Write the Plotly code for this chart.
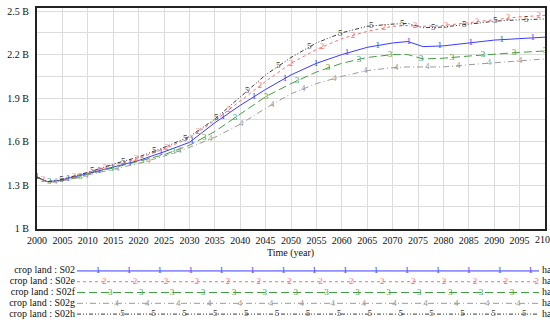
import numpy as np
import plotly.graph_objects as go

# ---------------- data ----------------
years = [2000, 2002, 2004, 2006, 2008, 2010, 2015, 2020, 2025, 2030, 2035, 2040,
         2045, 2050, 2055, 2060, 2065, 2070, 2073, 2076, 2080, 2085, 2090, 2095, 2100]

s02 = [1.357, 1.325, 1.33, 1.345, 1.36, 1.38, 1.425, 1.47, 1.53, 1.595, 1.73, 1.85,
       1.96, 2.06, 2.14, 2.20, 2.25, 2.28, 2.29, 2.255, 2.26, 2.28, 2.30, 2.31, 2.32]
s02e = [1.355, 1.322, 1.33, 1.35, 1.365, 1.385, 1.435, 1.485, 1.55, 1.625, 1.745, 1.88,
        2.015, 2.14, 2.235, 2.31, 2.36, 2.395, 2.40, 2.395, 2.40, 2.42, 2.44, 2.46, 2.47]
s02f = [1.355, 1.322, 1.327, 1.34, 1.355, 1.375, 1.42, 1.46, 1.51, 1.575, 1.67, 1.79,
        1.91, 2.00, 2.08, 2.14, 2.18, 2.20, 2.20, 2.17, 2.175, 2.19, 2.205, 2.215, 2.225]
s02g = [1.355, 1.322, 1.325, 1.335, 1.35, 1.37, 1.41, 1.45, 1.50, 1.56, 1.63, 1.72,
        1.83, 1.93, 2.00, 2.05, 2.09, 2.11, 2.115, 2.115, 2.115, 2.13, 2.145, 2.16, 2.17]
s02h = [1.355, 1.325, 1.333, 1.35, 1.367, 1.388, 1.445, 1.495, 1.56, 1.635, 1.755, 1.91,
        2.06, 2.18, 2.28, 2.35, 2.395, 2.41, 2.415, 2.385, 2.39, 2.41, 2.43, 2.44, 2.445]

series_names = ["crop land : S02", "crop land : S02e", "crop land : S02f",
                "crop land : S02g", "crop land : S02h"]
series_values = [s02, s02e, s02f, s02g, s02h]
marker_labels = ["1", "2", "3", "4", "5"]
unit_label = "ha"

y_tick_vals = [1.0, 1.15, 1.3, 1.45, 1.6, 1.75, 1.9, 2.05, 2.2, 2.35, 2.5]
y_tick_text = ["1 B", "", "1.3 B", "", "1.6 B", "", "1.9 B", "", "2.2 B", "", "2.5 B"]
x_tick_vals = list(range(2000, 2096, 5))
x_last_tick = 2100

# ---------------- styles ----------------
colors = ["#3b3bff", "#ff6b6b", "#3f9f3f", "#9a9a9a", "#3a3a3a"]
dashes = ["solid", "dot", "8px,4px", "6px,3px,1px,3px", "4px,2px,1px,2px,1px,2px"]
FONT = '"Liberation Serif", "Times New Roman", serif'

W, H = 550, 326
M_L, M_R, M_T, M_B = 37, 5, 8, 0
plot_h = H - M_T - M_B
main_bottom_px = 233
main_dom = [(H - main_bottom_px) / plot_h, 1.0]
leg_top_px = 265
leg_dom = [0.0, (H - leg_top_px) / plot_h]

fig = go.Figure()

yrs = np.array(years, dtype=float)
for i, (name, vals) in enumerate(zip(series_names, series_values)):
    v = np.array(vals) * 1e9
    fig.add_trace(go.Scatter(
        x=years, y=v, mode="lines", name=name,
        line=dict(color=colors[i], width=1, dash=dashes[i]),
        showlegend=False, hoverinfo="skip"))
    # numbered markers along the line
    mx = np.arange(2000 + 1.2 * i, 2100.01, 6.1)
    my = np.interp(mx, yrs, v)
    fig.add_trace(go.Scatter(
        x=mx, y=my, mode="text", text=[marker_labels[i]] * len(mx),
        textfont=dict(family=FONT, size=9, color=colors[i]),
        textposition="middle center", showlegend=False, hoverinfo="skip",
        cliponaxis=False))

# ---------------- legend block (pixel-scaled secondary axes) ----------------
row_px = [276, 287, 298, 309, 320]
line_x0, line_x1 = 77, 539
for i, name in enumerate(series_names):
    yy = row_px[i]
    fig.add_trace(go.Scatter(
        x=[line_x0, line_x1], y=[yy, yy], mode="lines",
        line=dict(color=colors[i], width=1, dash=dashes[i]),
        xaxis="x2", yaxis="y2", showlegend=False, hoverinfo="skip"))
    mx = np.arange(98 + 6.15 * i, line_x1 + 0.5, 30.9)
    fig.add_trace(go.Scatter(
        x=mx, y=[yy] * len(mx), mode="text", text=[marker_labels[i]] * len(mx),
        textfont=dict(family=FONT, size=9, color=colors[i]),
        xaxis="x2", yaxis="y2", showlegend=False, hoverinfo="skip", cliponaxis=False))
    fig.add_trace(go.Scatter(
        x=[75, 542], y=[yy, yy], mode="text", text=[name, unit_label],
        textposition=["middle left", "middle right"],
        textfont=dict(family=FONT, size=10, color="#111111"),
        xaxis="x2", yaxis="y2", showlegend=False, hoverinfo="skip", cliponaxis=False))

fig.update_layout(
    width=W, height=H,
    margin=dict(l=M_L, r=M_R, t=M_T, b=M_B, pad=0),
    paper_bgcolor="white", plot_bgcolor="white",
    font=dict(family=FONT, size=10, color="#111111"),
    xaxis=dict(range=[2000, 2100], tickvals=x_tick_vals,
               tickfont=dict(family=FONT, size=10, color="#111111"),
               showgrid=True, gridcolor="#dcdcdc", gridwidth=1,
               showline=True, linecolor="#222222", linewidth=2, mirror=True,
               ticks="", ticklabelstandoff=1, zeroline=False, anchor="y"),
    yaxis=dict(range=[1e9, 2.521e9], domain=main_dom,
               tickvals=[v * 1e9 for v in y_tick_vals], ticktext=y_tick_text,
               tickfont=dict(family=FONT, size=10, color="#111111"),
               showgrid=True, gridcolor="#dcdcdc", gridwidth=1,
               showline=True, linecolor="#222222", linewidth=2, mirror=True,
               ticks="", ticklabelstandoff=4, zeroline=False, anchor="x"),
    xaxis2=dict(range=[M_L, W - M_R], domain=[0, 1], anchor="y2", visible=False),
    yaxis2=dict(range=[H, leg_top_px], domain=leg_dom, anchor="x2", visible=False),
    annotations=[
        dict(text="Time (year)", xref="paper", yref="paper",
             x=(290 - M_L) / (W - M_L - M_R), y=(H - 258) / plot_h,
             xanchor="center", yanchor="middle", showarrow=False,
             font=dict(family=FONT, size=10, color="#111111")),
        dict(text=str(x_last_tick), xref="x", yref="paper",
             x=x_last_tick, y=(H - 244) / plot_h,
             xanchor="center", yanchor="middle", showarrow=False,
             font=dict(family=FONT, size=10, color="#111111")),
    ],
)

fig.write_html("out.html")
